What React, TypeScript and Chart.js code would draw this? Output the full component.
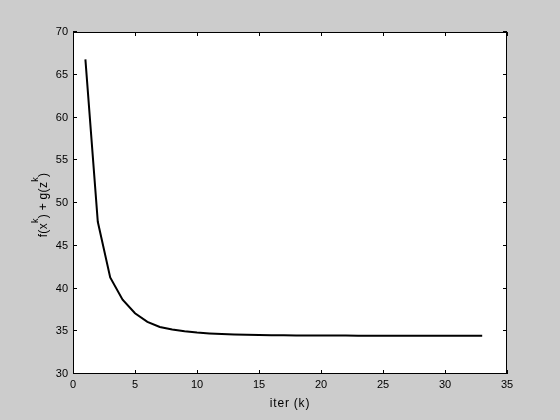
import React, { useEffect, useRef } from "react";
import { Chart, registerables } from "chart.js";

Chart.register(...registerables);

const iterations: number[] = [
  1, 2, 3, 4, 5, 6, 7, 8, 9, 10, 11, 12, 13, 14, 15, 16, 17, 18, 19, 20, 21,
  22, 23, 24, 25, 26, 27, 28, 29, 30, 31, 32, 33,
];
const objectiveValues: number[] = [
  66.8, 47.8, 41.3, 38.7, 37.1, 36.1, 35.5, 35.2, 35.0, 34.85, 34.75, 34.68,
  34.62, 34.58, 34.55, 34.53, 34.52, 34.51, 34.5, 34.5, 34.49, 34.49, 34.48,
  34.48, 34.48, 34.47, 34.47, 34.47, 34.47, 34.46, 34.46, 34.46, 34.46,
];
const xTicks: number[] = [0, 5, 10, 15, 20, 25, 30, 35];
const yTicks: number[] = [30, 35, 40, 45, 50, 55, 60, 65, 70];
const xLabel = "iter (k)";

const FONT = "'Liberation Sans', Arial, Helvetica, sans-serif";
const FONT_SIZE = 11;
const LABEL_SIZE = 12;

const boxPlugin = {
  id: "matlabBox",
  beforeDraw(chart: any) {
    const { ctx, width, height, chartArea } = chart;
    ctx.save();
    ctx.fillStyle = "#cccccc";
    ctx.fillRect(0, 0, width, height);
    ctx.fillStyle = "#ffffff";
    ctx.fillRect(
      chartArea.left,
      chartArea.top,
      chartArea.right - chartArea.left,
      chartArea.bottom - chartArea.top
    );
    ctx.restore();
  },
  afterDraw(chart: any) {
    const { ctx, chartArea, scales } = chart;
    const { left, right, top, bottom } = chartArea;
    ctx.save();
    ctx.strokeStyle = "#000000";
    ctx.lineWidth = 1;
    ctx.strokeRect(
      Math.round(left) + 0.5,
      Math.round(top) + 0.5,
      Math.round(right - left) - 1,
      Math.round(bottom - top) - 1
    );
    const tl = 4;
    ctx.beginPath();
    xTicks.forEach((v) => {
      const px = Math.round(scales.x.getPixelForValue(v)) + 0.5;
      ctx.moveTo(px, bottom);
      ctx.lineTo(px, bottom - tl);
      ctx.moveTo(px, top);
      ctx.lineTo(px, top + tl);
    });
    yTicks.forEach((v) => {
      const py = Math.round(scales.y.getPixelForValue(v)) - 0.5;
      ctx.moveTo(left, py);
      ctx.lineTo(left + tl, py);
      ctx.moveTo(right, py);
      ctx.lineTo(right - tl, py);
    });
    ctx.stroke();

    // x label
    ctx.fillStyle = "#000000";
    ctx.font = `${LABEL_SIZE}px ${FONT}`;
    (ctx as any).letterSpacing = "0.8px";
    ctx.textAlign = "center";
    ctx.textBaseline = "middle";
    ctx.fillText(xLabel, (left + right) / 2, 404);

    // y label with superscripts: f(x^k) + g(z^k)
    const parts: { t: string; sup: boolean }[] = [
      { t: "f(x", sup: false },
      { t: "k", sup: true },
      { t: ") + g(z", sup: false },
      { t: "k", sup: true },
      { t: ")", sup: false },
    ];
    const supSize = 9;
    (ctx as any).letterSpacing = "0.3px";
    let total = 0;
    parts.forEach((p) => {
      ctx.font = `${p.sup ? supSize : LABEL_SIZE}px ${FONT}`;
      total += ctx.measureText(p.t).width;
    });
    ctx.translate(42, (top + bottom) / 2 + 2);
    ctx.rotate(-Math.PI / 2);
    ctx.textAlign = "left";
    ctx.textBaseline = "alphabetic";
    let x = -total / 2;
    parts.forEach((p) => {
      ctx.font = `${p.sup ? supSize : LABEL_SIZE}px ${FONT}`;
      ctx.fillText(p.t, x, p.sup ? -4 : 5);
      x += ctx.measureText(p.t).width;
    });
    ctx.restore();
  },
};

export default function App() {
  const ref = useRef<HTMLCanvasElement | null>(null);
  useEffect(() => {
    document.body.style.margin = "0";
    const canvas = ref.current;
    if (!canvas) return;
    const chart = new Chart(canvas, {
      type: "line",
      data: {
        datasets: [
          {
            data: iterations.map((k, i) => ({ x: k, y: objectiveValues[i] })),
            borderColor: "#000000",
            borderWidth: 2,
            pointRadius: 0,
            tension: 0,
            fill: false,
          },
        ],
      },
      options: {
        responsive: false,
        animation: false,
        devicePixelRatio: 1,
        layout: { padding: { top: 32, right: 53, left: 0, bottom: 0 } },
        plugins: {
          legend: { display: false },
          tooltip: { enabled: false },
        },
        scales: {
          x: {
            type: "linear",
            min: 0,
            max: 35,
            afterFit: (s: any) => {
              s.height = 46;
            },
            afterBuildTicks: (s: any) => {
              s.ticks = xTicks.map((v) => ({ value: v }));
            },
            grid: { display: false, drawTicks: false },
            border: { display: false },
            ticks: {
              padding: 4,
              color: "#000000",
              font: { family: FONT, size: FONT_SIZE },
              maxRotation: 0,
            },
          },
          y: {
            type: "linear",
            min: 30,
            max: 70,
            afterFit: (s: any) => {
              s.width = 73;
            },
            afterBuildTicks: (s: any) => {
              s.ticks = yTicks.map((v) => ({ value: v }));
            },
            grid: { display: false, drawTicks: false },
            border: { display: false },
            ticks: {
              padding: 5,
              color: "#000000",
              font: { family: FONT, size: FONT_SIZE },
            },
          },
        },
      },
      plugins: [boxPlugin],
    });
    return () => chart.destroy();
  }, []);
  return (
    <div style={{ width: 560, height: 420 }}>
      <canvas ref={ref} width={560} height={420} style={{ display: "block" }} />
    </div>
  );
}
